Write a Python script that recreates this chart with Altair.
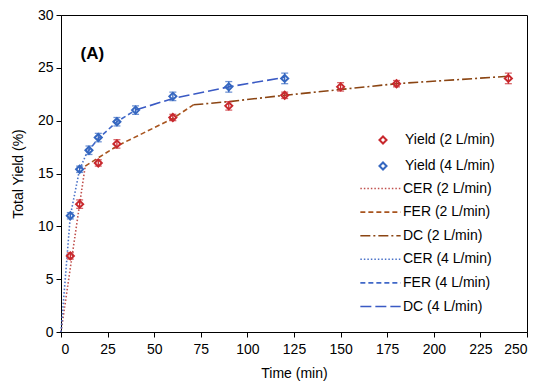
import altair as alt
import pandas as pd

# Measured yields (markers with error bars)
time_2 = [5, 10, 20, 30, 60, 90, 120, 150, 180, 240]
yield_2 = [7.2, 12.1, 16.0, 17.8, 20.3, 21.4, 22.4, 23.2, 23.5, 24.0]
err_2 = [0.3, 0.4, 0.3, 0.4, 0.3, 0.4, 0.3, 0.4, 0.3, 0.5]

time_4 = [5, 10, 15, 20, 30, 40, 60, 90, 120]
yield_4 = [11.0, 15.4, 17.2, 18.4, 19.9, 21.0, 22.3, 23.2, 24.0]
err_4 = [0.3, 0.3, 0.4, 0.4, 0.4, 0.4, 0.4, 0.5, 0.5]

# Model lines (vertices)
cer2_t = [0, 10, 13]
cer2_y = [0, 12.1, 15.7]
fer2_t = [13, 30, 60, 71]
fer2_y = [15.7, 17.6, 20.2, 21.5]
dc2_t = [71, 90, 120, 180, 240]
dc2_y = [21.5, 21.8, 22.4, 23.5, 24.2]
cer4_t = [0, 5, 10, 14]
cer4_y = [0, 11.0, 15.4, 17.0]
fer4_t = [14, 20, 30, 40]
fer4_y = [17.0, 18.3, 19.9, 21.0]
dc4_t = [40, 60, 90, 120]
dc4_y = [21.0, 22.1, 23.2, 24.1]

point_series = ["Yield (2 L/min)", "Yield (4 L/min)"]
point_colors = ["#C8282D", "#3567C0"]
line_series = ["CER (2 L/min)", "FER (2 L/min)", "DC (2 L/min)",
               "CER (4 L/min)", "FER (4 L/min)", "DC (4 L/min)"]
line_colors = ["#C0504D", "#A8541E", "#8B4513", "#4A72C8", "#4068C8", "#3A5AC4"]
line_dashes = [[1.5, 2], [5, 3], [10, 3, 2, 3], [1.5, 2], [5, 3], [11, 4]]

x_ticks = [0, 25, 50, 75, 100, 125, 150, 175, 200, 225, 250]
y_ticks = [0, 5, 10, 15, 20, 25, 30]

pts = pd.DataFrame({
    "t": time_2 + time_4,
    "y": yield_2 + yield_4,
    "e": err_2 + err_4,
    "series": [point_series[0]] * len(time_2) + [point_series[1]] * len(time_4),
})
pts["lo"] = pts["y"] - pts["e"]
pts["hi"] = pts["y"] + pts["e"]

rows = []
for name, ts, ys in zip(line_series,
                        [cer2_t, fer2_t, dc2_t, cer4_t, fer4_t, dc4_t],
                        [cer2_y, fer2_y, dc2_y, cer4_y, fer4_y, dc4_y]):
    for t, y in zip(ts, ys):
        rows.append({"t": t, "y": y, "series": name})
lines = pd.DataFrame(rows)

FONT = "Liberation Sans"

xs = alt.Scale(domain=[0, 250], nice=False)
ys = alt.Scale(domain=[0, 30], nice=False)
xax = alt.Axis(values=x_ticks, title="Time (min)", titlePadding=10, labelPadding=5)
yax = alt.Axis(values=y_ticks, title="Total Yield (%)", titlePadding=12)


def line_legend():
    return alt.Legend(
        title=None, orient="none", legendX=312, legendY=166,
        symbolType="M-3.1,0H3.1", symbolSize=169,
        symbolStrokeWidth=1.6, labelFontSize=14, labelFontWeight="normal",
        labelFont=FONT, labelColor="black",
        labelOffset=15, rowPadding=8.6, padding=0,
    )


line_layer = alt.Chart(lines).mark_line(strokeWidth=1.6).encode(
    x=alt.X("t:Q", scale=xs, axis=xax),
    y=alt.Y("y:Q", scale=ys, axis=yax),
    color=alt.Color("series:N", scale=alt.Scale(domain=line_series, range=line_colors),
                    legend=line_legend()),
    strokeDash=alt.StrokeDash("series:N", scale=alt.Scale(domain=line_series, range=line_dashes),
                              legend=line_legend()),
)

err_rule = alt.Chart(pts).mark_rule(strokeWidth=1.3).encode(
    x="t:Q", y="lo:Q", y2="hi:Q",
    color=alt.Color("series:N", scale=alt.Scale(domain=point_series, range=point_colors), legend=None),
)
err_lo = alt.Chart(pts).mark_tick(orient="horizontal", size=7, thickness=1.3).encode(
    x="t:Q", y="lo:Q",
    color=alt.Color("series:N", scale=alt.Scale(domain=point_series, range=point_colors), legend=None),
)
err_hi = alt.Chart(pts).mark_tick(orient="horizontal", size=7, thickness=1.3).encode(
    x="t:Q", y="hi:Q",
    color=alt.Color("series:N", scale=alt.Scale(domain=point_series, range=point_colors), legend=None),
)

pt_legend = alt.Legend(title=None, orient="none", legendX=315, legendY=118,
                       symbolType="diamond", symbolSize=50, symbolStrokeWidth=2,
                       labelFontSize=14, labelFontWeight="normal", labelFont=FONT,
                       labelColor="black", labelOffset=15, rowPadding=10, padding=0)
point_layer = alt.Chart(pts).mark_point(shape="diamond", filled=False, size=50, strokeWidth=2, opacity=1).encode(
    x="t:Q", y="y:Q",
    color=alt.Color("series:N", scale=alt.Scale(domain=point_series, range=point_colors),
                    legend=pt_legend),
)

label_df = pd.DataFrame({"t": [10.5], "y": [26.3], "txt": ["(A)"]})
label = alt.Chart(label_df).mark_text(align="left", baseline="middle", fontSize=17,
                                      fontWeight="bold", font=FONT, color="black").encode(
    x="t:Q", y="y:Q", text="txt:N")

chart = alt.layer(line_layer, err_rule, err_lo, err_hi, point_layer, label).resolve_scale(
    color="independent", strokeDash="independent"
).properties(
    width=466, height=317,
    autosize=alt.AutoSizeParams(type="none"),
    padding={"left": 53, "top": 7, "right": 15, "bottom": 50},
).configure_view(
    stroke="black", strokeWidth=1
).configure_axis(
    labelFont=FONT, titleFont=FONT, labelFontSize=14, titleFontSize=14,
    titleFontWeight="normal", labelColor="black", titleColor="black",
    domainColor="black", tickColor="black", grid=False, tickSize=5,
    labelPadding=3
)

chart.save("out.html", embed_options={"renderer": "svg", "actions": False})
